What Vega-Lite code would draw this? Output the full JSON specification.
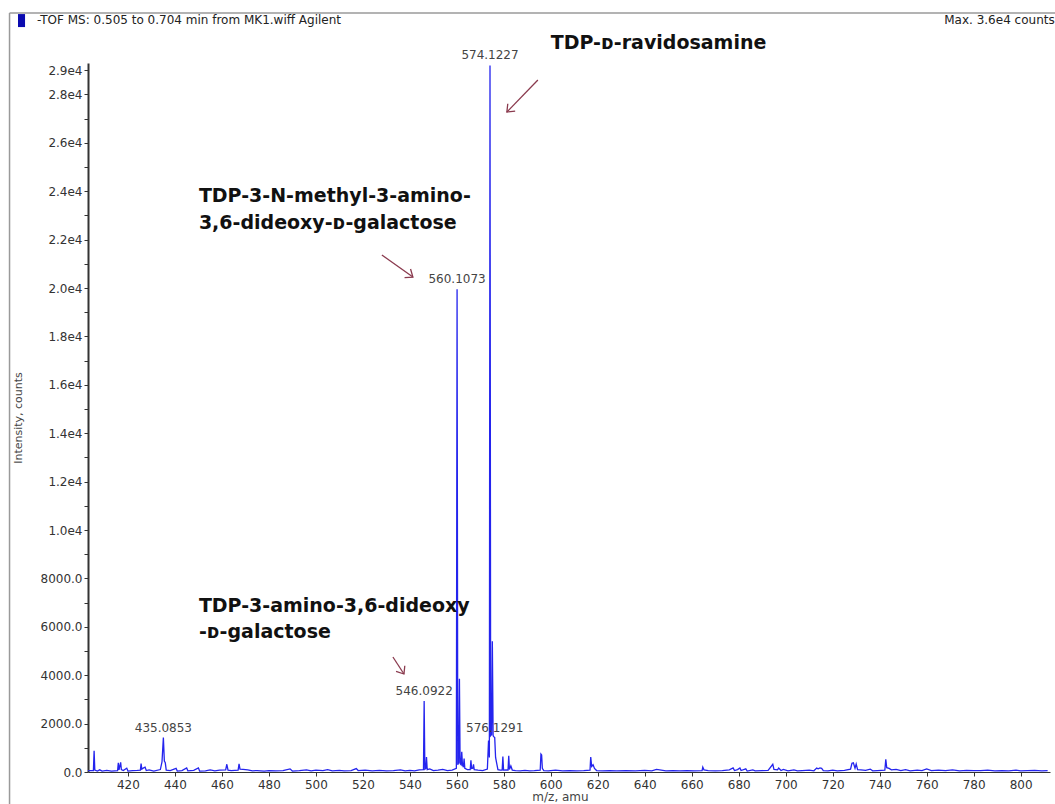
{
  "$schema": "https://vega.github.io/schema/vega-lite/v6.json",
  "width": 962,
  "height": 709,
  "autosize": "none",
  "padding": {"left": 88, "top": 63, "right": 5, "bottom": 32},
  "background": "white",
  "config": {"view": {"stroke": null}},
  "datasets": {
    "spectrum": [
      {"mz": 403, "intensity": 60}, {"mz": 405.3, "intensity": 60}, {"mz": 405.6, "intensity": 880}, {"mz": 405.9, "intensity": 80},
      {"mz": 407, "intensity": 40}, {"mz": 408, "intensity": 90}, {"mz": 409, "intensity": 40}, {"mz": 411, "intensity": 70},
      {"mz": 413, "intensity": 40}, {"mz": 415.6, "intensity": 60}, {"mz": 415.9, "intensity": 380}, {"mz": 416.2, "intensity": 90},
      {"mz": 416.9, "intensity": 400}, {"mz": 417.2, "intensity": 100}, {"mz": 418, "intensity": 60}, {"mz": 419.5, "intensity": 160},
      {"mz": 420, "intensity": 40}, {"mz": 422, "intensity": 60}, {"mz": 424, "intensity": 70}, {"mz": 425.3, "intensity": 80},
      {"mz": 425.6, "intensity": 350}, {"mz": 425.9, "intensity": 120}, {"mz": 426.5, "intensity": 160}, {"mz": 427.3, "intensity": 200},
      {"mz": 427.8, "intensity": 60}, {"mz": 429, "intensity": 90}, {"mz": 431, "intensity": 40}, {"mz": 433.8, "intensity": 100},
      {"mz": 434.5, "intensity": 420}, {"mz": 435.0853, "intensity": 1420}, {"mz": 435.5, "intensity": 450}, {"mz": 435.9, "intensity": 380},
      {"mz": 436.3, "intensity": 80}, {"mz": 438, "intensity": 60}, {"mz": 440.5, "intensity": 150}, {"mz": 441, "intensity": 40},
      {"mz": 443, "intensity": 60}, {"mz": 445, "intensity": 170}, {"mz": 445.5, "intensity": 50}, {"mz": 448, "intensity": 70},
      {"mz": 450, "intensity": 170}, {"mz": 450.5, "intensity": 40}, {"mz": 453, "intensity": 50}, {"mz": 455, "intensity": 90},
      {"mz": 457, "intensity": 50}, {"mz": 459, "intensity": 80}, {"mz": 461.6, "intensity": 90}, {"mz": 462.1, "intensity": 320},
      {"mz": 462.6, "intensity": 80}, {"mz": 464, "intensity": 60}, {"mz": 466.9, "intensity": 80}, {"mz": 467.3, "intensity": 340},
      {"mz": 467.7, "intensity": 120}, {"mz": 469, "intensity": 110}, {"mz": 471, "intensity": 90}, {"mz": 473, "intensity": 50},
      {"mz": 475, "intensity": 60}, {"mz": 478, "intensity": 40}, {"mz": 480, "intensity": 60}, {"mz": 483, "intensity": 50},
      {"mz": 486, "intensity": 60}, {"mz": 489, "intensity": 130}, {"mz": 490, "intensity": 40}, {"mz": 493, "intensity": 60},
      {"mz": 496, "intensity": 90}, {"mz": 498, "intensity": 50}, {"mz": 500, "intensity": 80}, {"mz": 503, "intensity": 60},
      {"mz": 505, "intensity": 100}, {"mz": 507, "intensity": 50}, {"mz": 510, "intensity": 70}, {"mz": 512, "intensity": 50},
      {"mz": 515, "intensity": 60}, {"mz": 517.2, "intensity": 140}, {"mz": 518, "intensity": 60}, {"mz": 521, "intensity": 80},
      {"mz": 524, "intensity": 50}, {"mz": 527, "intensity": 70}, {"mz": 530, "intensity": 50}, {"mz": 533, "intensity": 60},
      {"mz": 536, "intensity": 90}, {"mz": 538, "intensity": 50}, {"mz": 540, "intensity": 70}, {"mz": 542, "intensity": 50},
      {"mz": 544, "intensity": 90}, {"mz": 545.8, "intensity": 100}, {"mz": 546.0922, "intensity": 2930}, {"mz": 546.4, "intensity": 120},
      {"mz": 546.8, "intensity": 150}, {"mz": 547.09, "intensity": 620}, {"mz": 547.4, "intensity": 100}, {"mz": 548.5, "intensity": 130},
      {"mz": 550, "intensity": 60}, {"mz": 552, "intensity": 80}, {"mz": 554, "intensity": 110}, {"mz": 556, "intensity": 60},
      {"mz": 558, "intensity": 80}, {"mz": 559.8, "intensity": 150}, {"mz": 560.1073, "intensity": 19950}, {"mz": 560.4, "intensity": 300},
      {"mz": 560.8, "intensity": 400}, {"mz": 561.11, "intensity": 3850}, {"mz": 561.4, "intensity": 350}, {"mz": 561.8, "intensity": 300},
      {"mz": 562.1, "intensity": 840}, {"mz": 562.4, "intensity": 300}, {"mz": 562.8, "intensity": 200}, {"mz": 563.1, "intensity": 560},
      {"mz": 563.4, "intensity": 150}, {"mz": 564.5, "intensity": 100}, {"mz": 565.7, "intensity": 100}, {"mz": 566, "intensity": 480},
      {"mz": 566.3, "intensity": 150}, {"mz": 566.8, "intensity": 160}, {"mz": 567.1, "intensity": 320}, {"mz": 567.4, "intensity": 100},
      {"mz": 569, "intensity": 80}, {"mz": 571, "intensity": 60}, {"mz": 573, "intensity": 120}, {"mz": 573.5, "intensity": 1300},
      {"mz": 573.85, "intensity": 600}, {"mz": 574.1227, "intensity": 29200}, {"mz": 574.4, "intensity": 1500}, {"mz": 574.8, "intensity": 1550},
      {"mz": 575.12, "intensity": 5400}, {"mz": 575.45, "intensity": 1500}, {"mz": 575.8, "intensity": 1450}, {"mz": 576.1291, "intensity": 1420},
      {"mz": 576.5, "intensity": 600}, {"mz": 577, "intensity": 350}, {"mz": 577.5, "intensity": 100}, {"mz": 578.5, "intensity": 80},
      {"mz": 579.3, "intensity": 80}, {"mz": 579.6, "intensity": 640}, {"mz": 579.9, "intensity": 80}, {"mz": 581, "intensity": 90},
      {"mz": 581.8, "intensity": 80}, {"mz": 582.1, "intensity": 670}, {"mz": 582.4, "intensity": 100}, {"mz": 583, "intensity": 250},
      {"mz": 583.6, "intensity": 80}, {"mz": 585, "intensity": 60}, {"mz": 587, "intensity": 50}, {"mz": 589, "intensity": 70},
      {"mz": 591, "intensity": 50}, {"mz": 593, "intensity": 60}, {"mz": 595.5, "intensity": 80}, {"mz": 595.8, "intensity": 740},
      {"mz": 596.1, "intensity": 700}, {"mz": 596.4, "intensity": 150}, {"mz": 597, "intensity": 60}, {"mz": 599, "intensity": 50},
      {"mz": 602, "intensity": 80}, {"mz": 605, "intensity": 50}, {"mz": 608, "intensity": 60}, {"mz": 611, "intensity": 50},
      {"mz": 614, "intensity": 60}, {"mz": 616.7, "intensity": 80}, {"mz": 617, "intensity": 620}, {"mz": 617.4, "intensity": 230},
      {"mz": 618, "intensity": 300}, {"mz": 618.6, "intensity": 150}, {"mz": 619.5, "intensity": 60}, {"mz": 622, "intensity": 50},
      {"mz": 625, "intensity": 60}, {"mz": 628, "intensity": 50}, {"mz": 632, "intensity": 60}, {"mz": 636, "intensity": 50},
      {"mz": 640, "intensity": 70}, {"mz": 643, "intensity": 50}, {"mz": 645, "intensity": 110}, {"mz": 647, "intensity": 80},
      {"mz": 649, "intensity": 50}, {"mz": 652, "intensity": 60}, {"mz": 655, "intensity": 50}, {"mz": 658, "intensity": 60},
      {"mz": 661, "intensity": 50}, {"mz": 664.4, "intensity": 60}, {"mz": 664.7, "intensity": 200}, {"mz": 665.2, "intensity": 90},
      {"mz": 667, "intensity": 60}, {"mz": 670, "intensity": 50}, {"mz": 673, "intensity": 60}, {"mz": 676, "intensity": 90},
      {"mz": 677.6, "intensity": 170}, {"mz": 678.2, "intensity": 60}, {"mz": 679.5, "intensity": 100}, {"mz": 680.5, "intensity": 170},
      {"mz": 681, "intensity": 60}, {"mz": 683, "intensity": 130}, {"mz": 683.6, "intensity": 40}, {"mz": 686, "intensity": 90},
      {"mz": 687, "intensity": 50}, {"mz": 690, "intensity": 60}, {"mz": 692.5, "intensity": 70}, {"mz": 694.5, "intensity": 320},
      {"mz": 695, "intensity": 110}, {"mz": 696.5, "intensity": 90}, {"mz": 697, "intensity": 160}, {"mz": 698, "intensity": 60},
      {"mz": 699, "intensity": 110}, {"mz": 701, "intensity": 50}, {"mz": 703.5, "intensity": 90}, {"mz": 705, "intensity": 50},
      {"mz": 707, "intensity": 60}, {"mz": 710, "intensity": 80}, {"mz": 712, "intensity": 50}, {"mz": 713.2, "intensity": 160},
      {"mz": 713.8, "intensity": 130}, {"mz": 714.6, "intensity": 170}, {"mz": 715.3, "intensity": 150}, {"mz": 716, "intensity": 60},
      {"mz": 718, "intensity": 50}, {"mz": 720, "intensity": 80}, {"mz": 722, "intensity": 50}, {"mz": 725, "intensity": 70},
      {"mz": 727.6, "intensity": 120}, {"mz": 728.2, "intensity": 360}, {"mz": 728.8, "intensity": 380}, {"mz": 729.5, "intensity": 160},
      {"mz": 730, "intensity": 330}, {"mz": 730.6, "intensity": 100}, {"mz": 732, "intensity": 90}, {"mz": 734, "intensity": 70},
      {"mz": 736, "intensity": 120}, {"mz": 737, "intensity": 50}, {"mz": 739, "intensity": 60}, {"mz": 742.2, "intensity": 80},
      {"mz": 742.6, "intensity": 520}, {"mz": 743, "intensity": 180}, {"mz": 744, "intensity": 150}, {"mz": 745, "intensity": 90},
      {"mz": 747, "intensity": 110}, {"mz": 749, "intensity": 60}, {"mz": 751, "intensity": 100}, {"mz": 753, "intensity": 50},
      {"mz": 756, "intensity": 80}, {"mz": 758, "intensity": 60}, {"mz": 760, "intensity": 130}, {"mz": 762, "intensity": 60},
      {"mz": 765, "intensity": 80}, {"mz": 768, "intensity": 60}, {"mz": 771, "intensity": 90}, {"mz": 774, "intensity": 50},
      {"mz": 777, "intensity": 70}, {"mz": 780, "intensity": 60}, {"mz": 783, "intensity": 60}, {"mz": 786, "intensity": 80},
      {"mz": 789, "intensity": 50}, {"mz": 792, "intensity": 60}, {"mz": 795, "intensity": 50}, {"mz": 798, "intensity": 80},
      {"mz": 800, "intensity": 50}, {"mz": 803, "intensity": 60}, {"mz": 806, "intensity": 70}, {"mz": 809, "intensity": 50},
      {"mz": 811.5, "intensity": 60}
    ],
    "peaks": [
      {"mz": 435.0853, "intensity": 1420},
      {"mz": 546.0922, "intensity": 2930},
      {"mz": 560.1073, "intensity": 19950},
      {"mz": 574.1227, "intensity": 29200},
      {"mz": 576.1291, "intensity": 1420}
    ],
    "notes": [
      {"mz": 600.0, "intensity": 30124, "text": "TDP-ᴅ-ravidosamine"},
      {"mz": 450.2, "intensity": 23802, "text": "TDP-3-N-methyl-3-amino-"},
      {"mz": 450.2, "intensity": 22686, "text": "3,6-dideoxy-ᴅ-galactose"},
      {"mz": 450.2, "intensity": 6860, "text": "TDP-3-amino-3,6-dideoxy"},
      {"mz": 450.2, "intensity": 5785, "text": "-ᴅ-galactose"}
    ],
    "arrows": [
      {"mz": 581.3, "intensity": 27273, "mz2": 594.5, "intensity2": 28595, "heading": 225},
      {"mz": 541.3, "intensity": 20455, "mz2": 528.1, "intensity2": 21364, "heading": 125},
      {"mz": 537.5, "intensity": 4050, "mz2": 532.8, "intensity2": 4752, "heading": 147}
    ],
    "frame": [
      {"mz": 369.6, "intensity": 31364, "mz2": 369.6, "intensity2": -1500},
      {"mz": 369.6, "intensity": 31364, "mz2": 818, "intensity2": 31364}
    ],
    "icon": [
      {"mz": 373.2, "intensity": 31322, "mz2": 376.2, "intensity2": 30785}
    ],
    "headerLeft": [
      {"mz": 381.3, "intensity": 31074, "text": "-TOF MS: 0.505 to 0.704 min from MK1.wiff Agilent"}
    ],
    "headerRight": [
      {"mz": 814.5, "intensity": 31074, "text": "Max. 3.6e4 counts"}
    ]
  },
  "encoding": {
    "x": {
      "field": "mz",
      "type": "quantitative",
      "scale": {"domain": [403, 812.5], "nice": false, "zero": false},
      "axis": {
        "title": "m/z, amu",
        "values": [420, 440, 460, 480, 500, 520, 540, 560, 580, 600, 620, 640, 660, 680, 700, 720, 740, 760, 780, 800],
        "format": "d",
        "grid": false,
        "labelFont": "DejaVu Sans",
        "labelFontSize": 12,
        "labelColor": "#333333",
        "labelPadding": 3,
        "labelFlush": false,
        "labelOverlap": false,
        "tickSize": 4,
        "tickColor": "#333333",
        "domainColor": "#333333",
        "domainWidth": 1,
        "titleFont": "DejaVu Sans",
        "titleFontSize": 12,
        "titleFontWeight": "normal",
        "titleColor": "#444444",
        "titleX": 472,
        "titleY": 24,
        "titleBaseline": "middle"
      }
    },
    "y": {
      "field": "intensity",
      "type": "quantitative",
      "scale": {"domain": [0, 29300], "nice": false, "zero": false},
      "axis": {
        "title": "Intensity, counts",
        "values": [0, 1000, 2000, 3000, 4000, 5000, 6000, 7000, 8000, 9000, 10000, 11000, 12000, 13000, 14000, 15000, 16000, 17000, 18000, 19000, 20000, 21000, 22000, 23000, 24000, 25000, 26000, 27000, 28000, 29000],
        "labelExpr": "(datum.value % 2000 == 0 || datum.value == 29000) ? (datum.value < 10000 ? format(datum.value, '.1f') : format(datum.value / 10000, '.1f') + 'e4') : ''",
        "grid": false,
        "labelFont": "DejaVu Sans",
        "labelFontSize": 12,
        "labelColor": "#333333",
        "labelPadding": 2,
        "labelFlush": false,
        "labelOverlap": false,
        "tickSize": 4,
        "tickColor": "#333333",
        "domainColor": "#333333",
        "domainWidth": 2,
        "titleFont": "DejaVu Sans",
        "titleFontSize": 11,
        "titleFontWeight": "normal",
        "titleColor": "#444444",
        "titleX": -70,
        "titleBaseline": "middle"
      }
    }
  },
  "layer": [
    {
      "data": {"name": "frame"},
      "mark": {"type": "rule", "color": "#9a9a9a", "strokeWidth": 1.5},
      "encoding": {
        "x2": {"field": "mz2"},
        "y2": {"field": "intensity2"}
      }
    },
    {
      "data": {"name": "icon"},
      "mark": {"type": "rect", "color": "#0b0bb0"},
      "encoding": {
        "x2": {"field": "mz2"},
        "y2": {"field": "intensity2"}
      }
    },
    {
      "data": {"name": "headerLeft"},
      "mark": {"type": "text", "align": "left", "baseline": "middle", "font": "DejaVu Sans", "fontSize": 12, "color": "#222222"},
      "encoding": {"text": {"field": "text"}}
    },
    {
      "data": {"name": "headerRight"},
      "mark": {"type": "text", "align": "right", "baseline": "middle", "font": "DejaVu Sans", "fontSize": 12, "color": "#222222"},
      "encoding": {"text": {"field": "text"}}
    },
    {
      "data": {"name": "spectrum"},
      "mark": {"type": "line", "color": "#2424ee", "strokeWidth": 1.3, "interpolate": "linear"}
    },
    {
      "data": {"name": "peaks"},
      "mark": {"type": "text", "align": "center", "baseline": "bottom", "dy": -3, "font": "DejaVu Sans", "fontSize": 12, "color": "#444444"},
      "encoding": {"text": {"field": "mz", "type": "quantitative", "format": ".4f"}}
    },
    {
      "data": {"name": "notes"},
      "mark": {"type": "text", "align": "left", "baseline": "middle", "font": "DejaVu Sans", "fontSize": 19, "fontWeight": "bold", "color": "#111111"},
      "encoding": {"text": {"field": "text"}}
    },
    {
      "data": {"name": "arrows"},
      "mark": {"type": "rule", "color": "#8a3a4e", "strokeWidth": 1.3},
      "encoding": {
        "x2": {"field": "mz2"},
        "y2": {"field": "intensity2"}
      }
    },
    {
      "data": {"name": "arrows"},
      "mark": {"type": "point", "shape": "M-0.8,1L0,0L0.8,1", "filled": false, "color": "#8a3a4e", "strokeWidth": 1.3, "size": 170, "opacity": 1},
      "encoding": {
        "angle": {"field": "heading", "type": "quantitative", "scale": null}
      }
    }
  ]
}
